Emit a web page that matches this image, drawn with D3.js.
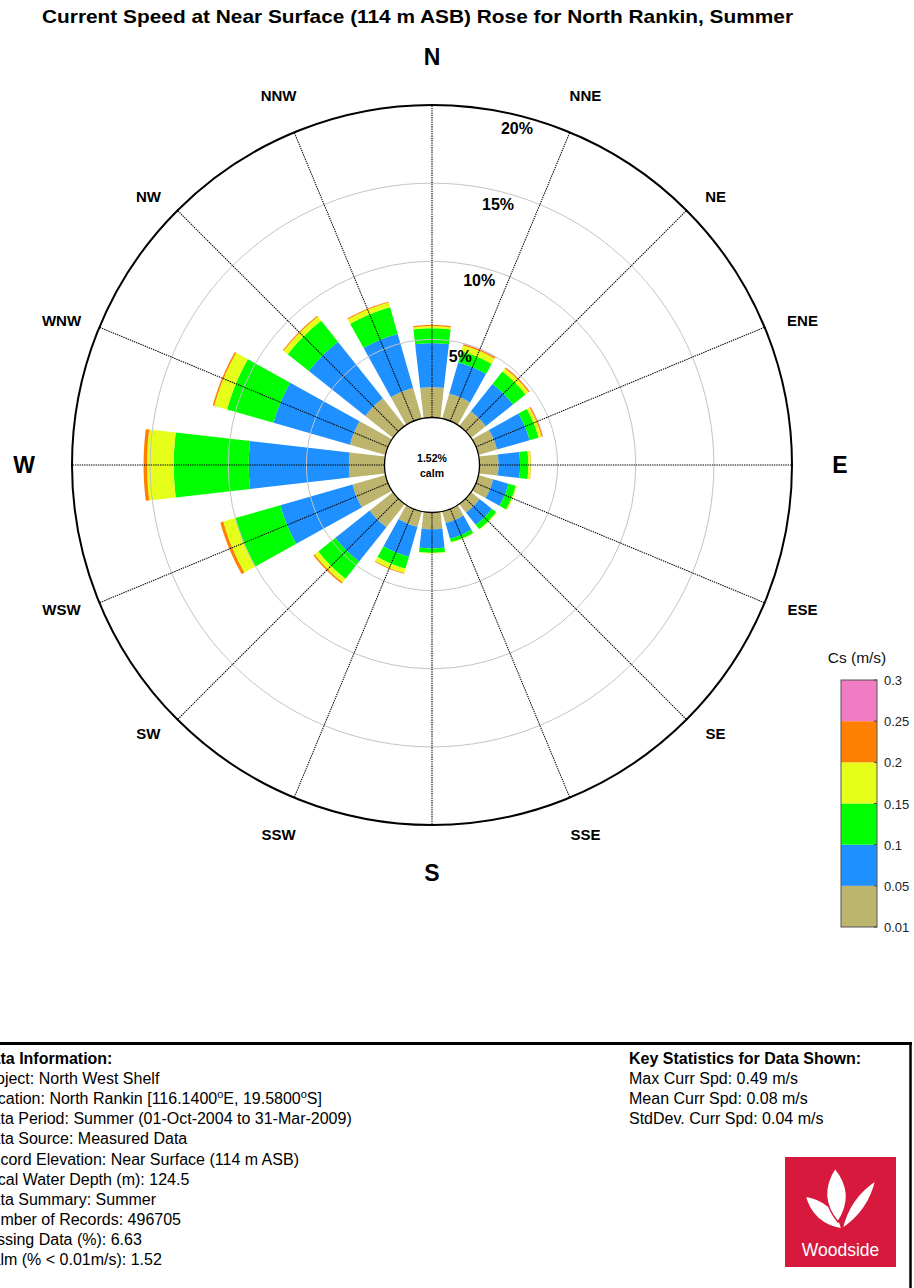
<!DOCTYPE html>
<html><head><meta charset="utf-8">
<script src="https://cdn.jsdelivr.net/npm/d3@7"></script>
<style>
html,body{margin:0;padding:0;background:#fff;}
svg{display:block;font-family:"Liberation Sans",Arial,sans-serif;}
</style></head>
<body>
<svg id="chart" width="914" height="1288"></svg>
<script>
// ---------------- DATA ----------------
const titleText = "Current Speed at Near Surface (114 m ASB) Rose for North Rankin, Summer";
const directions = ["N","NNE","NE","ENE","E","ESE","SE","SSE","S","SSW","SW","WSW","W","WNW","NW","NNW"];
// frequency (%) per speed bin, per direction (N clockwise)
const freq_001_005 = [1.94,1.65,1.20,1.24,1.22,0.98,0.70,0.77,1.08,1.03,1.90,2.20,2.28,2.37,2.26,2.03];
const freq_005_010 = [2.82,2.08,2.23,2.16,1.38,1.02,1.00,1.04,1.22,1.98,2.80,4.80,6.41,5.08,4.61,3.60];
const freq_010_015 = [0.96,0.74,1.02,0.60,0.53,0.48,0.35,0.23,0.28,0.79,1.40,3.00,4.80,3.10,1.73,1.77];
const freq_015_020 = [0.13,0.39,0.25,0.20,0.15,0.07,0.05,0.04,0.04,0.30,0.30,0.80,1.71,0.85,0.33,0.32];
const freq_020_025 = [0.08,0.09,0.08,0.07,0.02,0.00,0.00,0.00,0.00,0.05,0.10,0.20,0.22,0.10,0.07,0.06];
const freq_025_030 = [0.00,0.04,0.02,0.03,0.00,0.00,0.00,0.00,0.00,0.00,0.00,0.00,0.00,0.00,0.00,0.00];
const speedBinEdges = ["0.01","0.05","0.1","0.15","0.2","0.25","0.3"];
const ringTicks = [5,10,15,20];
const calmPct = 1.52;
const legendTitle = "Cs (m/s)";
const infoTitle = "Data Information:";
const infoLines = [
  ["Project: North West Shelf"],
  ["Location: North Rankin [116.1400","o","E, 19.5800","o","S]"],
  ["Data Period: Summer (01-Oct-2004 to 31-Mar-2009)"],
  ["Data Source: Measured Data"],
  ["Record Elevation: Near Surface (114 m ASB)"],
  ["Local Water Depth (m): 124.5"],
  ["Data Summary: Summer"],
  ["Number of Records: 496705"],
  ["Missing Data (%): 6.63"],
  ["Calm (% < 0.01m/s): 1.52"]
];
const statsTitle = "Key Statistics for Data Shown:";
const statsLines = ["Max Curr Spd: 0.49 m/s","Mean Curr Spd: 0.08 m/s","StdDev. Curr Spd: 0.04 m/s"];
const logoText = "Woodside";

// ---------------- STYLE ----------------
const binColors = ["#BDB46D","#1E90FF","#00FF00","#E6FF1A","#FF7F00","#F07CC3"];
const cx = 432, cy = 465;
const svg = d3.select("#chart");
svg.append("rect").attr("width",914).attr("height",1288).attr("fill","#fff");

const rScale = d3.scaleLinear().domain([0,20]).range([47.5,360]);
const aScale = d3.scaleLinear().domain([0,directions.length]).range([0,2*Math.PI]);
const halfW = r => 3 + r*Math.tan(6.5*Math.PI/180);

const bins = [freq_001_005,freq_005_010,freq_010_015,freq_015_020,freq_020_025,freq_025_030];

function pt(a,u,v){ return [cx + u*Math.sin(a) + v*Math.cos(a), cy - u*Math.cos(a) + v*Math.sin(a)]; }
function segPoly(a,r0,r1){
  const pts=[];
  const h0=halfW(r0), h1=halfW(r1);
  const n=12;
  for(let k=0;k<=n;k++){ const v=-h0+2*h0*k/n; pts.push(pt(a,Math.sqrt(r0*r0-v*v),v)); }
  for(let k=0;k<=n;k++){ const v=h1-2*h1*k/n; pts.push(pt(a,Math.sqrt(r1*r1-v*v),v)); }
  return pts;
}
const gBars = svg.append("g");
directions.forEach((d,i)=>{
  const a = aScale(i);
  let cum = 0;
  bins.forEach((arr,b)=>{
    const v = arr[i];
    if(v<=0) return;
    const r0 = rScale(cum), r1 = rScale(cum+v);
    cum += v;
    gBars.append("path")
      .attr("d", d3.line()(segPoly(a,r0,r1))+"Z")
      .attr("fill", binColors[b]);
  });
});

// rings
const gGrid = svg.append("g");
ringTicks.forEach(t=>{
  gGrid.append("circle").attr("cx",cx).attr("cy",cy).attr("r",rScale(t))
    .attr("fill","none")
    .attr("stroke", t===20 ? "#000" : "#c4c4c4")
    .attr("stroke-width", t===20 ? 2 : 1);
});
// spokes
directions.forEach((d,i)=>{
  const a=aScale(i);
  const p0=pt(a,rScale(0),0), p1=pt(a,rScale(20),0);
  gGrid.append("line").attr("x1",p0[0]).attr("y1",p0[1]).attr("x2",p1[0]).attr("y2",p1[1])
    .attr("stroke","#000").attr("stroke-width",1.05).attr("stroke-dasharray","1.4,0.9");
});
// calm circle
svg.append("circle").attr("cx",cx).attr("cy",cy).attr("r",rScale(0)).attr("fill","#fff")
  .attr("stroke","#000").attr("stroke-width",1.3);
svg.append("text").attr("x",cx).attr("y",cy-3).attr("text-anchor","middle")
  .attr("font-size",10.5).attr("font-weight","bold").text(calmPct.toFixed(2)+"%");
svg.append("text").attr("x",cx).attr("y",cy+12).attr("text-anchor","middle")
  .attr("font-size",10.5).attr("font-weight","bold").text("calm");

// ring labels
const labAng = 14*Math.PI/180;
ringTicks.forEach(t=>{
  const p = pt(labAng, rScale(t)-13, 0);
  svg.append("text").attr("x",p[0]+1).attr("y",p[1]+6).attr("text-anchor","middle")
    .attr("font-size",16).attr("font-weight","bold").text(t+"%");
});

// direction labels
directions.forEach((d,i)=>{
  const a=aScale(i);
  const major = (i%4===0);
  let x, y;
  if(major){
    x = cx + 408*Math.sin(a); y = cy - 408*Math.cos(a) + 8;
  } else {
    const ry = (i%4===2) ? 380 : (Math.abs(Math.sin(a))>0.5 ? 377 : 400);
    x = cx + 401*Math.sin(a); y = cy - ry*Math.cos(a) + 5.5;
  }
  svg.append("text").attr("x",x).attr("y",y).attr("text-anchor","middle")
    .attr("font-size", major?23:15).attr("font-weight","bold").text(d);
});

// title
svg.append("text").attr("x",417.5).attr("y",23).attr("text-anchor","middle")
  .attr("font-size",19).attr("font-weight","bold")
  .attr("textLength",751).attr("lengthAdjust","spacingAndGlyphs").text(titleText);

// legend
const legTop=680, legBot=927, legX=841, legW=36;
const legScale = d3.scaleLinear().domain([0,speedBinEdges.length-1]).range([legBot,legTop]);
binColors.forEach((c,b)=>{
  svg.append("rect").attr("x",legX).attr("y",legScale(b+1)).attr("width",legW)
    .attr("height",legScale(b)-legScale(b+1)).attr("fill",c);
});
svg.append("rect").attr("x",legX).attr("y",legTop).attr("width",legW).attr("height",legBot-legTop)
  .attr("fill","none").attr("stroke","#555").attr("stroke-width",1);
speedBinEdges.forEach((s,k)=>{
  const y=legScale(k);
  svg.append("line").attr("x1",legX+legW-3).attr("x2",legX+legW).attr("y1",y).attr("y2",y).attr("stroke","#444");
  svg.append("text").attr("x",legX+legW+7).attr("y",y+5).attr("font-size",13).attr("fill","#222").text(s);
});
svg.append("text").attr("x",857).attr("y",663).attr("text-anchor","middle").attr("font-size",15.5)
  .attr("fill","#111").text(legendTitle);

// info box
svg.append("line").attr("x1",0).attr("x2",912).attr("y1",1043.5).attr("y2",1043.5).attr("stroke","#000").attr("stroke-width",3);
svg.append("line").attr("x1",910.5).attr("x2",910.5).attr("y1",1042).attr("y2",1288).attr("stroke","#000").attr("stroke-width",2.5);
const lineH=20.1, base0=1064;
svg.append("text").attr("x",-20).attr("y",base0).attr("font-size",16).attr("font-weight","bold").text(infoTitle);
infoLines.forEach((parts,k)=>{
  const t = svg.append("text").attr("x",-20).attr("y",base0+(k+1)*lineH).attr("font-size",16);
  parts.forEach(p=>{
    if(p==="o") t.append("tspan").attr("baseline-shift","super").attr("font-size",11).text("o");
    else t.append("tspan").text(p);
  });
});
svg.append("text").attr("x",629).attr("y",base0).attr("font-size",16).attr("font-weight","bold").text(statsTitle);
statsLines.forEach((s,k)=>{
  svg.append("text").attr("x",629).attr("y",base0+(k+1)*lineH).attr("font-size",16).text(s);
});

// logo
const logo = svg.append("g");
logo.append("rect").attr("x",785).attr("y",1157).attr("width",111).attr("height",110).attr("fill","#D7193D");
function leaf(p0,p1,w){
  const mx=(p0[0]+p1[0])/2, my=(p0[1]+p1[1])/2;
  const dx=p1[0]-p0[0], dy=p1[1]-p0[1], L=Math.hypot(dx,dy);
  const nx=-dy/L*w, ny=dx/L*w;
  return `M${p0}Q${mx+nx},${my+ny} ${p1}Q${mx-nx},${my-ny} ${p0}Z`;
}
logo.append("path").attr("d",leaf([805,1196],[842,1229],16)).attr("fill","#fff").attr("stroke","#D7193D").attr("stroke-width",1.5);
logo.append("path").attr("d",leaf([876,1180],[842,1229],12)).attr("fill","#fff").attr("stroke","#D7193D").attr("stroke-width",1.5);
logo.append("path").attr("d",leaf([835,1168],[838,1222],20)).attr("fill","#fff").attr("stroke","#D7193D").attr("stroke-width",1.5);
logo.append("text").attr("x",840.5).attr("y",1256).attr("text-anchor","middle").attr("font-size",17.5)
  .attr("fill","#fff").text(logoText);
</script>
</body></html>
